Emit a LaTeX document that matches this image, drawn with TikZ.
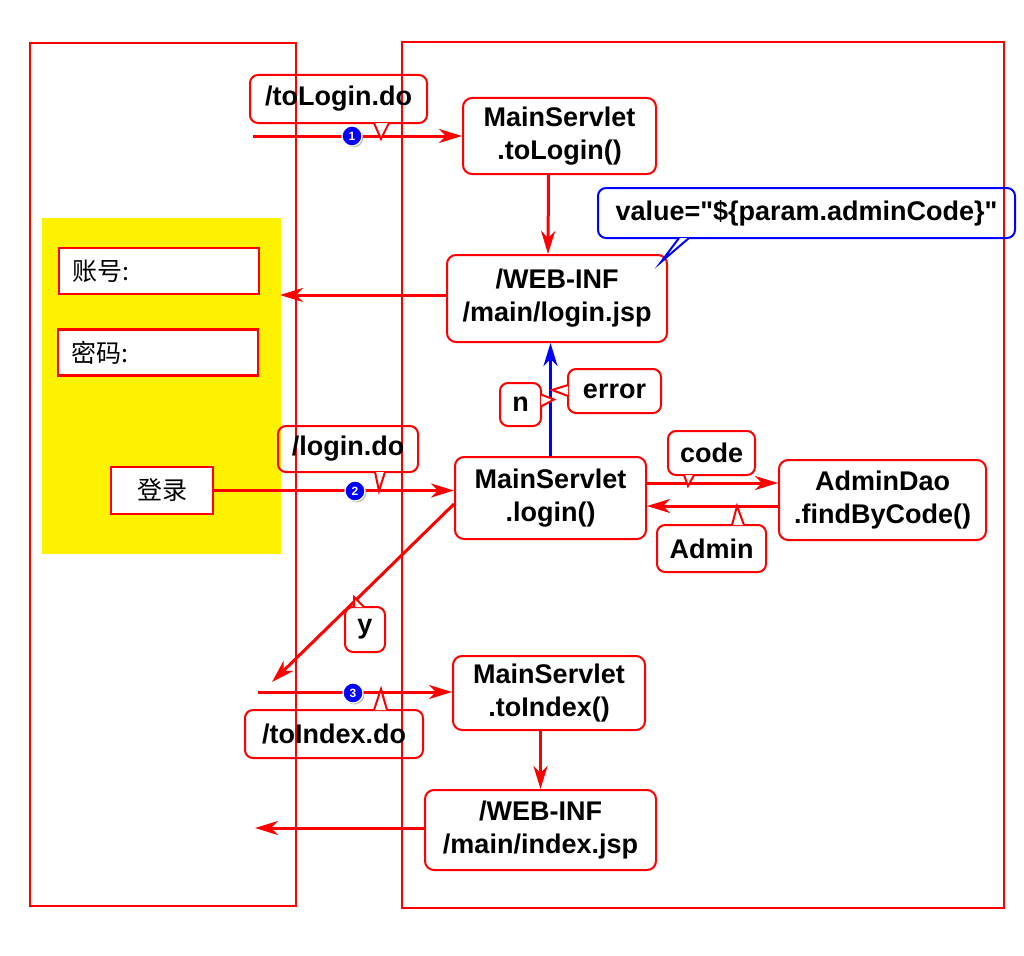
\documentclass[tikz,border=0pt]{standalone}
\usepackage{fontspec}
\setmainfont{Liberation Sans}
\newfontfamily\cjk{Noto Sans CJK SC}
\usetikzlibrary{arrows.meta,calc,shadows}

\begin{document}
\begin{tikzpicture}[x=1pt,y=-1pt]
	\tikzstyle{frame} = [draw=red, line width=2.8pt]
	\tikzstyle{box}   = [draw=red, line width=2pt, rounded corners=9pt, inner sep=0pt, align=center, font=\bfseries\fontsize{27}{33}\selectfont]
	\tikzstyle{field} = [draw=red, line width=2.2pt, fill=white, minimum height=46pt, inner xsep=13pt, text width=174pt, align=left, font=\cjk\fontsize{25}{25}\selectfont]
	\tikzstyle{btn}   = [draw=red, line width=2.2pt, fill=white, minimum width=102pt, minimum height=47pt, inner sep=0pt, font=\cjk\fontsize{25}{25}\selectfont]
	\tikzstyle{note}  = [draw=red, line width=2pt, rounded corners=8pt, inner sep=0pt, font=\bfseries\fontsize{27}{33}\selectfont]
	\tikzstyle{tip}   = [draw=red, line width=2pt, fill=white, line join=miter]
	\tikzstyle{arr}   = [red, line width=3pt, -{Stealth[length=23pt, width=14pt, inset=7pt]}]
	\tikzstyle{num}   = [circle, fill=blue, draw=white, line width=1.2pt, minimum size=20pt, inner sep=0pt, text=white, font=\bfseries\fontsize{12}{12}\selectfont, drop shadow={shadow xshift=1.5pt, shadow yshift=-1.5pt, fill=black!50}]

	\useasboundingbox (0,0) rectangle (1024,955);

	% browser and server
	\draw[frame] (30,43) rectangle (296,906);
	\draw[frame] (402,42) rectangle (1004,908);
	\fill[yellow] (42,218) rectangle (281,554);

	% login form
	\node[field, minimum width=200pt] (user) at (159,271) {账号:};
	\node[field, minimum width=200pt] (pass) at (158,352.5) {密码:};
	\node[btn] (btn) at (162,490.5) {登录};

	% servlets and pages
	\node[box, minimum width=193pt, minimum height=76pt] (toLogin) at (559.5,136) {MainServlet\\.toLogin()};
	\node[box, minimum width=220pt, minimum height=87pt] (loginJsp) at (557,298.5) {/WEB-INF\\/main/login.jsp};
	\node[box, minimum width=191pt, minimum height=82pt] (login) at (550.5,498) {MainServlet\\.login()};
	\node[box, minimum width=207pt, minimum height=80pt] (dao) at (882.5,500) {AdminDao\\.findByCode()};
	\node[box, minimum width=192pt, minimum height=74pt] (toIndex) at (549,693) {MainServlet\\.toIndex()};
	\node[box, minimum width=231pt, minimum height=80pt] (indexJsp) at (540.5,830) {/WEB-INF\\/main/index.jsp};

	\coordinate (in1) at (253,136);
	\coordinate (out1) at (280,295);
	\coordinate (out2) at (272,682);
	\coordinate (in3) at (258,692);
	\coordinate (out3) at (255,828);
	\coordinate (codeA) at ([yshift=15pt]login.east);
	\coordinate (codeB) at ([yshift=-6pt]dao.west);

	\draw[arr] (in1) -- (in1 -| toLogin.west);
	\draw[arr] ([xshift=-11pt]toLogin.south) -- ([xshift=-9pt]loginJsp.north);
	\draw[arr] (loginJsp.west |- out1) -- (out1);
	\draw[arr] (btn.east) -- (btn.east -| login.west);
	\draw[arr, blue] (login.north) -- (login.north |- loginJsp.south);
	\draw[arr] (codeA) -- (codeA -| dao.west);
	\draw[arr] (codeB) -- (codeB -| login.east);
	\draw[arr] ([yshift=-6pt]login.west) -- (out2);
	\draw[arr] (in3) -- (in3 -| toIndex.west);
	\draw[arr] (indexJsp.north |- toIndex.south) -- (indexJsp.north);
	\draw[arr] (indexJsp.west |- out3) -- (out3);

	% callouts
	\node[note, minimum width=177pt, minimum height=48pt] (cToLogin) at (338.5,99) {/toLogin.do};
	\filldraw[tip] ($(cToLogin.south west)+(125,-1)$) -- ($(cToLogin.south west)+(132,15)$) -- ($(cToLogin.south west)+(140,-1)$);

	\node[note, draw=blue, minimum width=417pt, minimum height=50pt] (cValue) at (806.5,213) {value=\textquotedbl\$\{param.adminCode\}\textquotedbl};
	\filldraw[tip, draw=blue] ($(cValue.south west)+(82,-1)$) -- ($(cValue.south west)+(64,23)$) -- ($(cValue.south west)+(92,-1)$);

	\node[note, minimum width=93pt, minimum height=44pt] (cError) at (614.5,391) {error};
	\filldraw[tip] ($(cError.west)+(1,-6)$) -- ($(cError.west)+(-15,-1)$) -- ($(cError.west)+(1,5)$);

	\node[note, minimum width=41pt, minimum height=43pt] (cNo) at (520.5,404.5) {n};
	\filldraw[tip] ($(cNo.east)+(-1,-10)$) -- ($(cNo.east)+(12,-5)$) -- ($(cNo.east)+(-1,2)$);

	\node[note, minimum width=140pt, minimum height=46pt] (cLogin) at (348,449) {/login.do};
	\filldraw[tip] ($(cLogin.south west)+(98,-1)$) -- ($(cLogin.south west)+(102,18)$) -- ($(cLogin.south west)+(108,-1)$);

	\node[note, minimum width=87pt, minimum height=44pt] (cCode) at (711.5,453) {code};
	\filldraw[tip] ($(cCode.south west)+(17,-1)$) -- ($(cCode.south west)+(21,10)$) -- ($(cCode.south west)+(27,-1)$);

	\node[note, minimum width=109pt, minimum height=47pt] (cAdmin) at (711.5,548.5) {Admin};
	\filldraw[tip] ($(cAdmin.north west)+(76,1)$) -- ($(cAdmin.north west)+(81,-18)$) -- ($(cAdmin.north west)+(88,1)$);

	\node[note, minimum width=40pt, minimum height=45pt] (cYes) at (365,629.5) {y};
	\filldraw[tip] ($(cYes.north west)+(10,1)$) -- ($(cYes.north west)+(10,-9)$) -- ($(cYes.north west)+(20,1)$);

	\node[note, minimum width=178pt, minimum height=48pt] (cToIndex) at (334,734) {/toIndex.do};
	\filldraw[tip] ($(cToIndex.north west)+(130,1)$) -- ($(cToIndex.north west)+(137,-20)$) -- ($(cToIndex.north west)+(143,1)$);

	% steps
	\foreach \n/\x/\y in {1/352/136, 2/355/491, 3/353/693}
		\node[num] (step\n) at (\x, \y) {\n};
\end{tikzpicture}
\end{document}
